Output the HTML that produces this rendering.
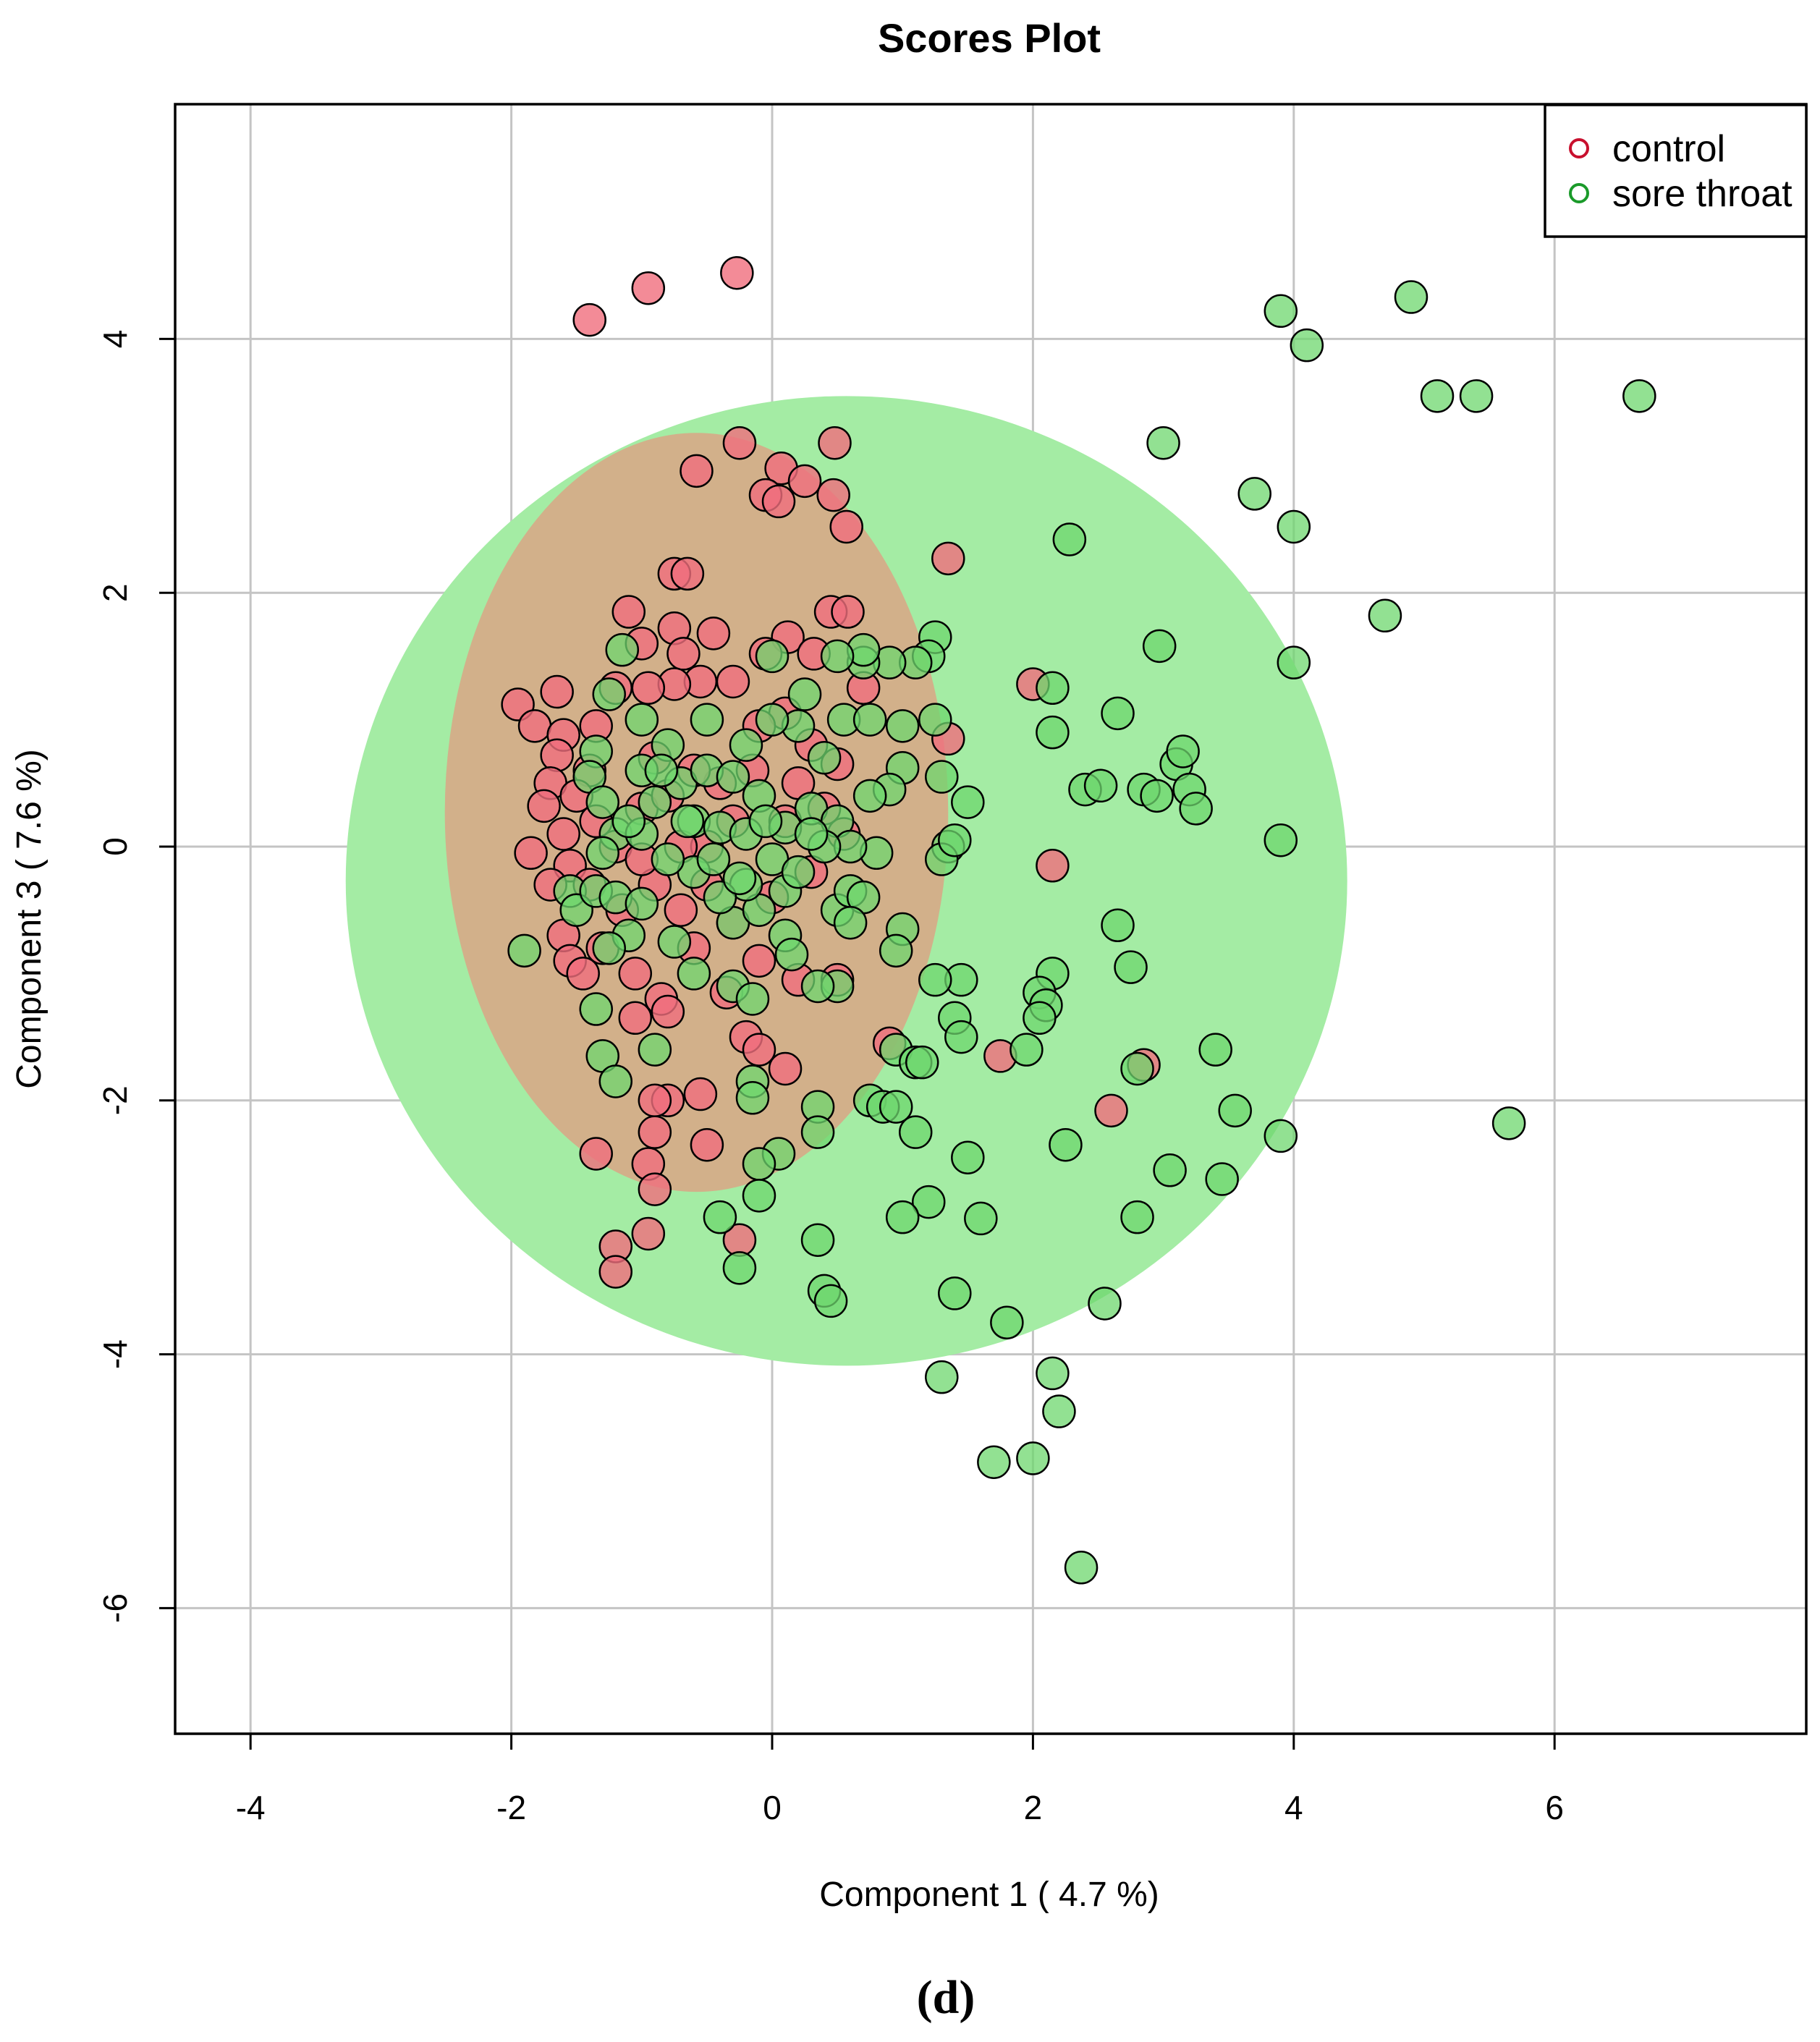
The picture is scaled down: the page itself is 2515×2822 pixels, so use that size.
<!DOCTYPE html>
<html><head><meta charset="utf-8"><style>
html,body{margin:0;padding:0;background:#fff}
svg{display:block}
text{font-family:"Liberation Sans",sans-serif}
</style></head><body>
<svg id="chart" width="2515" height="2822" xmlns="http://www.w3.org/2000/svg">
<text x="1367" y="72" text-anchor="middle" font-size="56" font-weight="bold">Scores Plot</text>
<g id="grid"></g>
<g id="ellipses"></g>
<g id="points"></g>
<rect x="242" y="144" width="2254" height="2252" fill="none" stroke="#000" stroke-width="3.5"/>
<g id="axes"></g>
<text x="1367" y="2634" text-anchor="middle" font-size="48">Component 1 ( 4.7 %)</text>
<text transform="translate(56,1270) rotate(-90)" text-anchor="middle" font-size="48">Component 3 ( 7.6 %)</text>
<g>
<rect x="2135" y="145" width="361" height="182" fill="#fff" stroke="#000" stroke-width="3.5"/>
<circle cx="2182" cy="205" r="12" fill="none" stroke="#c8102e" stroke-width="4"/>
<text x="2228" y="223" font-size="52">control</text>
<circle cx="2182" cy="267" r="12" fill="none" stroke="#1a9a2a" stroke-width="4"/>
<text x="2228" y="285" font-size="52">sore throat</text>
</g>
<text x="1307" y="2782" text-anchor="middle" font-size="66" font-weight="bold" style="font-family:'Liberation Serif',serif">(d)</text>
</svg>
<script>
const xTicks=[-4,-2,0,2,4,6];
const yTicks=[-6,-4,-2,0,2,4];
const controlX=[-1.4,-0.95,-0.27,-0.25,0.48,-0.58,0.07,0.25,-0.05,0.05,0.47,0.57,1.35,-0.75,-0.65,-1.1,-0.75,-0.45,0.12,0.45,0.58,-0.68,-0.05,0.32,-1.0,-1.95,-1.82,-1.65,-1.6,-1.65,-1.7,-1.75,-1.6,-1.55,-1.85,-1.7,-1.6,-1.55,-1.45,-1.05,-1.05,-0.85,-0.8,-0.35,-0.2,-0.1,0.1,0.2,0.5,-0.55,-0.8,-0.9,-0.9,-0.5,-1.35,-0.95,-0.9,-1.2,-1.2,-0.95,-0.25,0.9,1.75,2.0,2.15,2.6,2.85,1.35,0.7,0.5,0.3,0.1,-0.1,-0.3,-0.55,-0.75,-0.95,-1.2,-1.35,-1.4,-1.5,-1.35,-1.4,-1.3,-1.15,-0.9,-0.7,-0.6,-0.5,-0.4,-0.3,-0.15,0.0,0.1,0.2,0.3,0.4,0.55,-0.9,-1.0,-0.8,-0.6,-1.2,-1.0,-0.7,-0.5,-0.3,-0.1];
const controlY=[4.15,4.4,4.52,3.18,3.18,2.96,2.98,2.88,2.77,2.72,2.77,2.52,2.27,2.15,2.15,1.85,1.72,1.68,1.65,1.85,1.85,1.52,1.52,1.52,1.6,1.12,0.95,1.22,0.88,0.72,0.5,0.32,0.1,-0.15,-0.05,-0.3,-0.7,-0.9,-1.0,-1.0,-1.35,-1.2,-1.3,-1.15,-1.5,-1.6,-1.75,-1.05,-1.05,-1.95,-2.0,-2.0,-2.25,-2.35,-2.42,-2.5,-2.7,-3.15,-3.35,-3.05,-3.1,-1.55,-1.65,1.28,-0.15,-2.08,-1.72,0.85,1.25,0.65,0.8,1.05,0.95,1.3,1.3,1.28,1.25,1.25,0.95,0.6,0.4,0.2,-0.3,-0.8,-0.5,-0.3,-0.5,-0.8,0.0,0.5,0.2,0.6,-0.4,0.2,0.5,-0.2,0.3,0.1,0.7,0.3,0.4,0.6,0.0,-0.1,0.0,-0.3,-0.6,-0.9];
const soreX=[3.9,4.1,4.9,5.1,5.4,6.65,3.0,3.7,4.0,2.28,4.7,2.97,4.0,2.15,2.15,2.65,2.4,2.52,2.85,2.95,3.1,3.15,3.2,3.25,3.9,2.65,2.75,2.15,2.05,2.1,2.05,1.45,1.25,1.4,1.45,1.95,0.95,1.1,1.15,0.75,0.85,0.95,1.1,1.5,3.4,3.55,3.9,2.25,2.8,3.05,3.45,1.2,1.0,1.6,2.8,5.65,0.35,0.35,0.05,-0.1,-0.1,-0.4,0.35,-0.25,0.4,0.45,1.4,2.55,1.8,1.3,2.15,2.2,1.7,2.0,2.37,1.25,1.2,1.1,0.9,0.7,0.7,0.5,0.0,1.5,1.3,1.35,1.3,1.4,1.0,1.0,0.9,1.25,1.0,0.95,0.5,0.35,0.5,0.6,0.7,0.8,-1.15,-1.25,-1.0,-1.35,-1.4,-1.3,-1.2,-1.55,-1.5,-1.35,-1.2,-1.0,-1.1,-1.25,-1.9,-1.35,-1.3,-1.2,-0.9,-0.75,-0.6,-0.3,-0.15,-0.15,-0.15,-0.3,-0.1,0.1,0.1,0.15,-0.2,-0.4,-0.6,-0.8,-1.0,-0.9,-0.7,-0.5,-0.3,-0.1,0.1,0.3,0.5,0.6,0.75,0.4,0.2,0.0,-0.2,-0.5,-0.8,-1.0,-0.6,-0.4,-0.2,0.0,0.2,0.4,-0.85,-0.65,-0.45,-0.25,-1.1,-1.3,0.55,0.75,0.25,0.6,-0.05,0.3];
const soreY=[4.22,3.95,4.33,3.55,3.55,3.55,3.18,2.78,2.52,2.42,1.82,1.58,1.45,1.25,0.9,1.05,0.45,0.48,0.45,0.4,0.65,0.75,0.45,0.3,0.05,-0.62,-0.95,-1.0,-1.15,-1.25,-1.35,-1.05,-1.05,-1.35,-1.5,-1.6,-1.6,-1.7,-1.7,-2.0,-2.05,-2.05,-2.25,-2.45,-1.6,-2.08,-2.28,-2.35,-1.75,-2.55,-2.62,-2.8,-2.92,-2.93,-2.92,-2.18,-2.05,-2.25,-2.42,-2.5,-2.75,-2.92,-3.1,-3.32,-3.5,-3.58,-3.52,-3.6,-3.75,-4.18,-4.15,-4.45,-4.85,-4.82,-5.68,1.65,1.5,1.45,1.45,1.45,1.55,1.5,1.5,0.35,0.55,0.0,-0.1,0.05,0.95,0.62,0.45,1.0,-0.65,-0.82,-1.1,-1.1,-0.5,-0.35,-0.4,-0.05,1.55,1.2,1.0,0.75,0.55,0.35,0.1,-0.35,-0.5,-0.35,-0.4,-0.45,-0.7,-0.8,-0.82,-1.28,-1.65,-1.85,-1.6,-0.75,-1.0,-1.1,-1.2,-1.85,-1.98,-0.6,-0.5,-0.35,-0.7,-0.85,-0.3,-0.4,-0.2,-0.1,0.1,0.35,0.5,0.6,0.55,0.4,0.15,0.3,0.2,0.0,0.4,0.7,0.95,1.0,0.8,1.0,0.8,0.6,0.2,0.15,0.1,-0.1,-0.2,0.0,0.6,0.2,-0.1,-0.25,0.2,-0.05,1.0,1.0,1.2,-0.6,0.2,0.1];
const soreEllipse=[0.57,-0.27,3.84,3.82];
const controlEllipse=[-0.58,0.27,1.93,2.99];

const NS="http://www.w3.org/2000/svg";
const L=242,T=144,R=2496,B=2396;
const sx=v=>1067+v*180.2;
const sy=v=>1170-v*175.4;
function mk(tag,attrs,parent){const e=document.createElementNS(NS,tag);for(const k in attrs)e.setAttribute(k,attrs[k]);parent.appendChild(e);return e;}
const grid=document.getElementById('grid'),axes=document.getElementById('axes'),ell=document.getElementById('ellipses'),pts=document.getElementById('points');
xTicks.forEach(t=>{
  const g=mk('line',{x1:sx(t),x2:sx(t),y1:T,y2:B,stroke:'#c4c4c4','stroke-width':3},grid);
  
  
  const tk=mk('line',{x1:sx(t),x2:sx(t),y1:B,y2:B+22,stroke:'#000','stroke-width':3},axes);
  
  
  const lb=mk('text',{x:sx(t),y:2514,'text-anchor':'middle','font-size':46},axes);
  lb.textContent=t;
  
  
});
yTicks.forEach(t=>{
  const g=mk('line',{x1:L,x2:R,y1:sy(t),y2:sy(t),stroke:'#c4c4c4','stroke-width':3},grid);
  
  
  const tk=mk('line',{x1:L-22,x2:L,y1:sy(t),y2:sy(t),stroke:'#000','stroke-width':3},axes);
  
  
  const lb=mk('text',{transform:`translate(175,${sy(t)}) rotate(-90)`,'text-anchor':'middle','font-size':46},axes);
  lb.textContent=t;
  
  
});
const e1=mk('ellipse',{cx:sx(soreEllipse[0]),cy:sy(soreEllipse[1]),rx:soreEllipse[2]*180.2,ry:soreEllipse[3]*175.4,fill:'rgb(164,236,164)'},ell);


const e2=mk('ellipse',{cx:sx(controlEllipse[0]),cy:sy(controlEllipse[1]),rx:controlEllipse[2]*180.2,ry:controlEllipse[3]*175.4,fill:'rgb(210,176,138)'},ell);


controlX.forEach((x,i)=>{
  const c=mk('circle',{cx:sx(x),cy:sy(controlY[i]),r:22,fill:'rgba(240,110,125,0.8)',stroke:'#000','stroke-width':2.5},pts);
  
  
});
soreX.forEach((x,i)=>{
  const c=mk('circle',{cx:sx(x),cy:sy(soreY[i]),r:22,fill:'rgba(110,215,110,0.75)',stroke:'#000','stroke-width':2.5},pts);
  
  
});
</script>
</body></html>
